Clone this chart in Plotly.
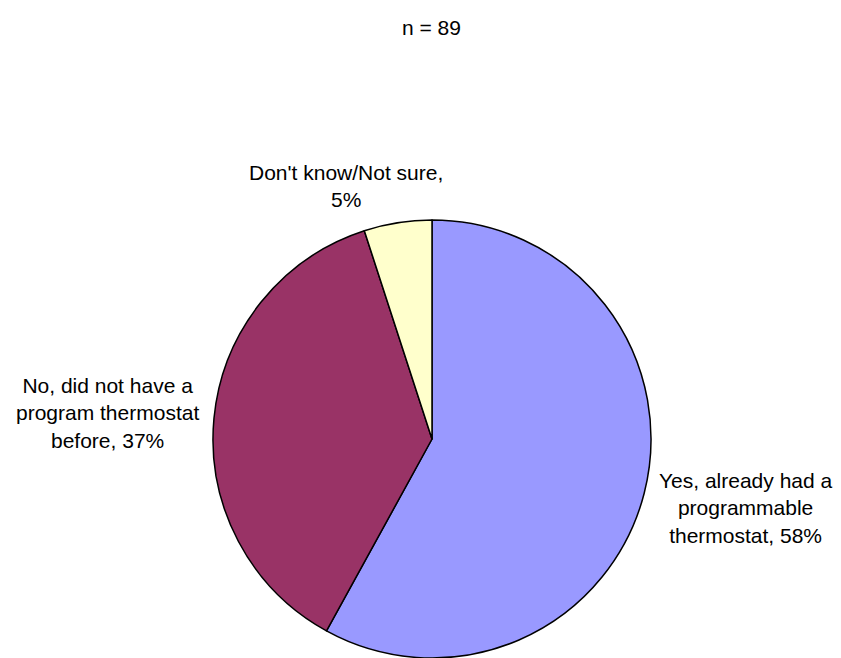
import plotly.graph_objects as go

labels = ["Yes, already had a<br>programmable<br>thermostat", "No, did not have a<br>program thermostat<br>before", "Don't know/Not sure,<br>"]
values = [58, 37, 5]
colors = ["#9999FF", "#993366", "#FFFFCC"]
title_text = "n = 89"

# label anchor positions in paper coords (x, y)
label_pos = [(746 / 841, 1 - 508 / 658), (107 / 841, 1 - 413 / 658), (346 / 841, 1 - 186 / 658)]

fig = go.Figure(go.Pie(
    values=values,
    labels=["Yes", "No", "Don't know"],
    marker=dict(colors=colors, line=dict(color="black", width=1.5)),
    sort=False,
    direction="clockwise",
    rotation=0,
    textinfo="none",
    hoverinfo="label+percent",
    domain=dict(x=[212 / 841, 652 / 841], y=[0, 1 - 220 / 658]),
    showlegend=False,
))

annotations = []
for lab, v, (x, y) in zip(labels, values, label_pos):
    sep = "" if lab.endswith("<br>") else ", "
    annotations.append(dict(
        x=x, y=y, xref="paper", yref="paper", xanchor="center", yanchor="middle",
        text=f"{lab}{sep}{v}%", showarrow=False, align="center",
        font=dict(family="Liberation Sans, Arial, sans-serif", size=21, color="black"),
    ))
annotations.append(dict(
    x=431 / 841, y=1 - 28 / 658, xref="paper", yref="paper", xanchor="center", yanchor="middle",
    text=title_text, showarrow=False,
    font=dict(family="Liberation Sans, Arial, sans-serif", size=21, color="black"),
))

fig.update_layout(
    width=841, height=658,
    margin=dict(l=0, r=0, t=0, b=0),
    paper_bgcolor="white", plot_bgcolor="white",
    annotations=annotations,
)

fig.write_html("out.html")
